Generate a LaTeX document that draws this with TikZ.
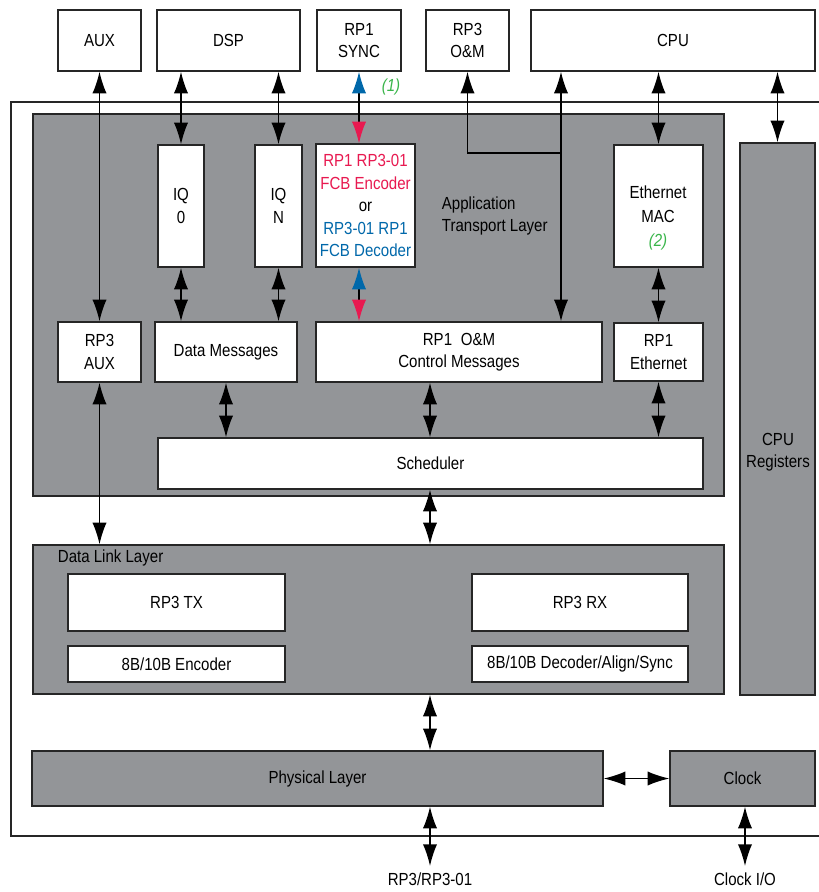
\documentclass[tikz,border=0pt]{standalone}
\usepackage{fontspec}
\setmainfont{Liberation Sans}[FakeStretch=0.86]
\usetikzlibrary{arrows.meta}

\definecolor{layergray}{RGB}{147,149,152}
\definecolor{fcbred}{RGB}{232,25,80}
\definecolor{fcbblue}{RGB}{0,104,170}
\definecolor{notegreen}{RGB}{57,181,74}

\tikzset{
    blk/.style={draw=black!85, line width=0.8pt, fill=white, inner sep=0pt, align=center},
    layer/.style={blk, fill=layergray},
    span/.style n args={4}{minimum width={(#3-#1)*0.6pt}, minimum height={(#4-#2)*0.6pt},
        at={({(#1+#3)/2},{(#2+#4)/2})}},
    twoway/.style={line width=0.8pt, {Latex[length=13pt,width=8.5pt]}-{Latex[length=13pt,width=8.5pt]}},
    oneway/.style={line width=0.8pt, -{Latex[length=13pt,width=8.5pt]}},
}

\begin{document}
\begin{tikzpicture}[x=0.6pt, y=-0.6pt, font=\fontsize{10.5}{13.5}\selectfont]
                    \useasboundingbox (0,0) rectangle (819,892);

                    % outside blocks
                    \node[blk, span={58}{10}{141}{71}] (aux) {AUX};
                    \node[blk, span={157}{10}{300}{71}] (dsp) {DSP};
                    \node[blk, span={317}{10}{401}{71}] (sync) {RP1\\SYNC};
                    \node[blk, span={426}{10}{509}{71}] (rp3om) {RP3\\O\&M};
                    \node[blk, span={531}{10}{815}{71}] (cpu) {CPU};

                    \draw[line width=0.8pt, black!85] (819,102) -- (11,102) -- (11,836) -- (819,836);

                    % application transport layer
                    \node[layer, span={33}{114}{724}{496}] (app) {};
                    \node[anchor=west, align=left] (applbl) at (436,216) {Application\\Transport Layer};

                    \node[blk, span={158}{145}{204}{267}] (iq0) {IQ\\0};
                    \node[blk, span={255}{145}{302}{267}] (iqn) {IQ\\N};
                    \node[blk, span={316}{144}{415}{267}] (enc)
                        {{\color{fcbred}RP1 RP3-01}\\{\color{fcbred}FCB Encoder}\\or\\{\color{fcbblue}RP3-01 RP1}\\{\color{fcbblue}FCB Decoder}};
                    \node[blk, span={614}{145}{703}{267}] (emac) {};
                    \node[align=center, font=\fontsize{10.5}{14.3}\selectfont] (emaclbl) at (658,218)
                        {Ethernet\\MAC\\{\color{notegreen}\itshape (2)}};

                    \node[blk, span={58}{322}{141}{382}] (rp3aux) {RP3\\AUX};
                    \node[blk, span={155}{322}{297}{382}] (dmsg) {Data Messages};
                    \node[blk, span={316}{322}{602}{382}] (om) {RP1\enspace O\&M\\Control Messages};
                    \node[blk, span={614}{323}{703}{381}] (reth) {RP1\\Ethernet};
                    \node[blk, span={158}{438}{703}{489}] (sched) {Scheduler};

                    \node[layer, span={740}{143}{815}{695}] (cpureg) {};
                    \node[align=center] (cpureglbl) at (778,452) {CPU\\Registers};

                    % data link layer
                    \node[layer, span={33}{545}{724}{694}] (dll) {};
                    \node[anchor=west] (dlllbl) at (52,558) {Data Link Layer};
                    \node[blk, span={68}{574}{285}{631}] (tx) {RP3 TX};
                    \node[blk, span={68}{646}{285}{682}] (enc8b) {8B/10B Encoder};
                    \node[blk, span={472}{574}{688}{631}] (rx) {RP3 RX};
                    \node[blk, span={472}{646}{688}{682}] (dec8b) {8B/10B Decoder/Align/Sync};

                    \node[layer, span={32}{751}{603}{806}] (phy) {Physical Layer};
                    \node[layer, span={670}{751}{815}{806}] (clk) {Clock};

                    \node[anchor=north, inner sep=4pt] (rp3io) at (430,866) {RP3/RP3-01};
                    \node[anchor=north, inner sep=4pt] (clkio) at (745,866) {Clock I/O};
                    \node[text=notegreen, font=\fontsize{10.5}{13.5}\selectfont\itshape] (note1) at (391,87) {(1)};

                    \coordinate (xmain) at (430,0);
                    \coordinate (omjoin) at (561,153);

                    % connectors
                    \draw[twoway] (aux) -- (rp3aux);
                    \draw[twoway] (rp3aux.south) -- (rp3aux.south |- dll.north);
                    \draw[twoway] (iq0.north |- dsp.south) -- (iq0.north);
                    \draw[twoway] (iqn.north |- dsp.south) -- (iqn.north);
                    \draw[twoway] (iq0.south) -- (iq0.south |- dmsg.north);
                    \draw[twoway] (iqn.south) -- (iqn.south |- dmsg.north);
                    \draw[twoway] (dmsg.south) -- (dmsg.south |- sched.north);

                    \draw[line width=0.8pt, {Latex[length=13pt,width=8.5pt,color=fcbblue]}-{Latex[length=13pt,width=8.5pt,color=fcbred]}]
                        (sync.south) -- (sync.south |- enc.north);
                    \draw[line width=0.8pt, {Latex[length=13pt,width=8.5pt,color=fcbblue]}-{Latex[length=13pt,width=8.5pt,color=fcbred]}]
                        (sync.south |- enc.south) -- (sync.south |- om.north);

                    \draw[oneway] (omjoin) -| (rp3om.south);
                    \draw[twoway] (omjoin |- cpu.south) -- (omjoin |- om.north);
                    \draw[twoway] (emac.north |- cpu.south) -- (emac.north);
                    \draw[twoway] (cpureg.north |- cpu.south) -- (cpureg.north);
                    \draw[twoway] (emac.south) -- (reth.north);
                    \draw[twoway] (reth.south) -- (reth.south |- sched.north);

                    \draw[twoway] (xmain |- om.south) -- (xmain |- sched.north);
                    \draw[twoway] (xmain |- sched.south) -- (xmain |- dll.north);
                    \draw[twoway] (xmain |- dll.south) -- (xmain |- phy.north);
                    \draw[twoway] (xmain |- phy.south) -- (rp3io.north);
                    \draw[twoway] (phy.east) -- (clk.west);
                    \draw[twoway] (clkio.north |- clk.south) -- (clkio.north);
                \end{tikzpicture}
\end{document}
